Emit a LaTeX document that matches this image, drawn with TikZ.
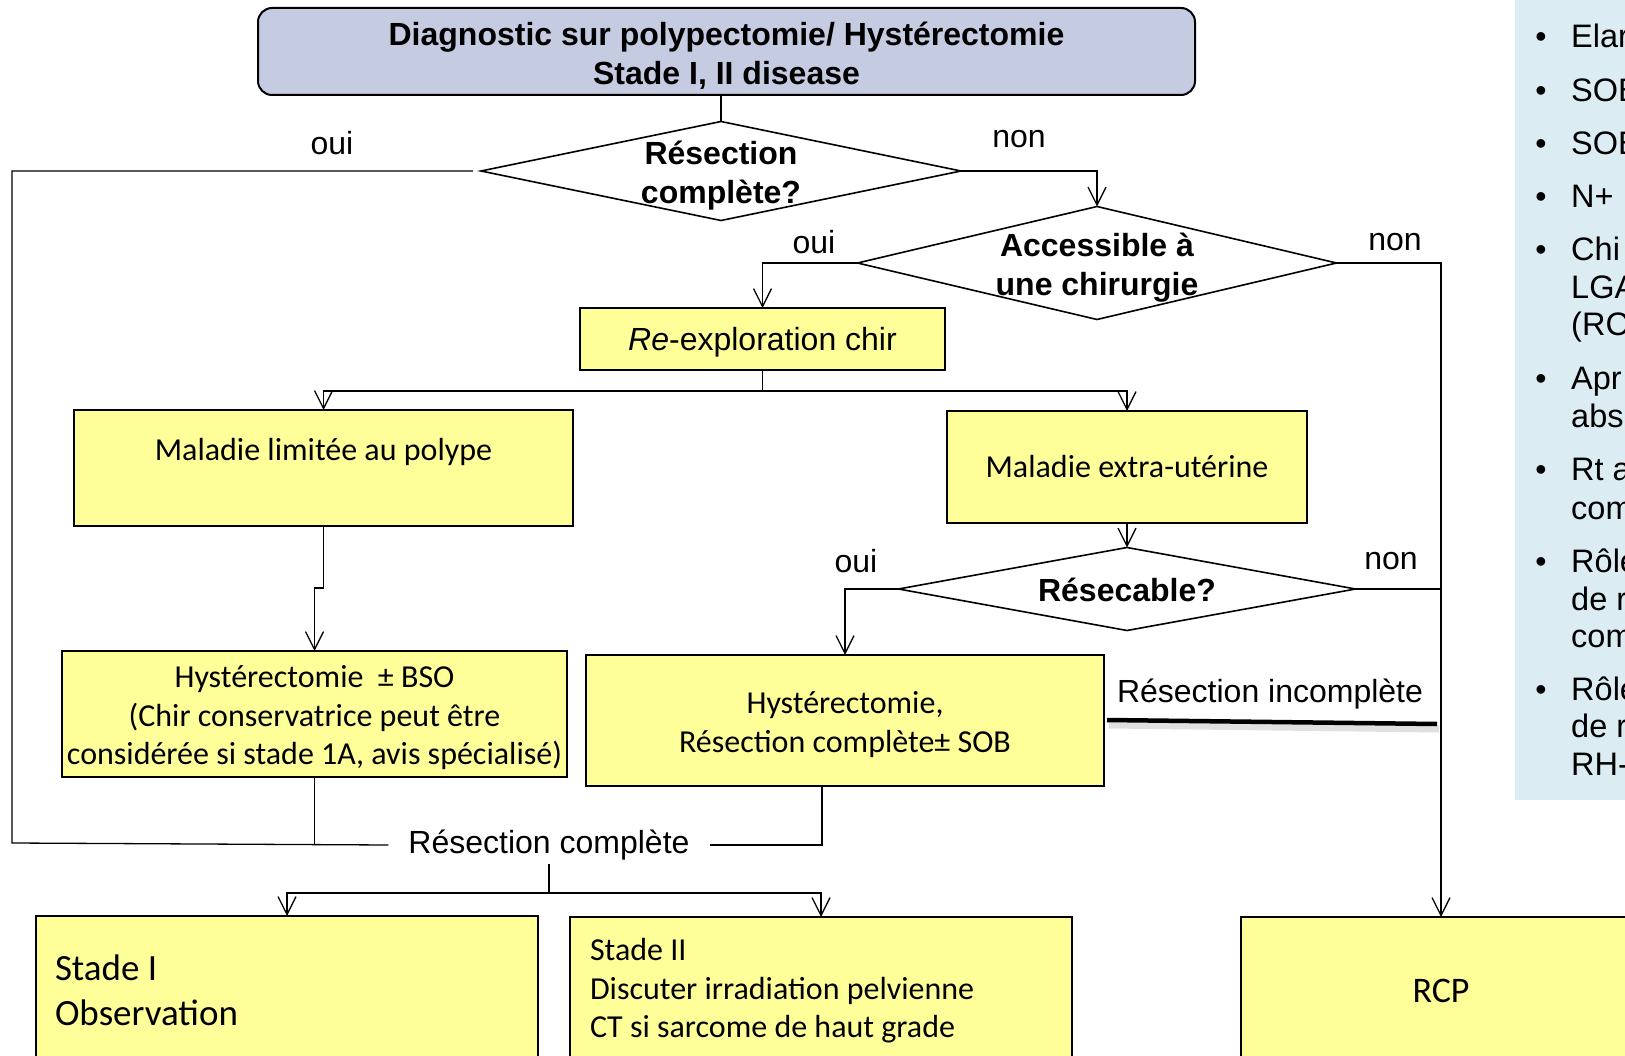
\documentclass[tikz,border=0pt]{standalone}
\usepackage{fontspec}
\setmainfont{Carlito}
\newfontfamily\arial{Liberation Sans}
\usetikzlibrary{shapes.geometric,arrows.meta}
\definecolor{boxyellow}{RGB}{255,255,153}
\definecolor{headblue}{RGB}{197,203,225}
\definecolor{panelblue}{RGB}{219,236,242}
\begin{document}
\begin{tikzpicture}[x=1pt,y=-1pt,
  box/.style={draw=black,line width=1.6pt,fill=boxyellow,inner sep=0pt,outer sep=0pt,align=center,font=\fontsize{32}{38.5}\selectfont},
  btxt/.style={align=center,inner sep=0pt,font=\fontsize{32}{38.5}\selectfont},
  dia/.style={diamond,draw=black,line width=1.6pt,fill=white,inner sep=0pt,outer sep=0pt},
  qtxt/.style={align=center,inner sep=0pt,font=\arial\bfseries\fontsize{32}{39}\selectfont},
  lbl/.style={font=\arial\fontsize{32}{38}\selectfont},
  link/.style={line width=1.3pt},
  arr/.style={line width=1.3pt,-{Straight Barb[length=18pt,width=18pt]}}]
            \useasboundingbox (0,0) rectangle (1625,1056);
            \clip (0,0) rectangle (1625,1056);

            \fill[panelblue] (1515,0) rectangle (1625,800);
            \foreach \y in {48,102,155,208,261,390,480,572,700} {
            \node[anchor=base,font=\arial\fontsize{32}{37}\selectfont] (b\y) at (1541,\y) {•};}
            \foreach \y/\t in {48/Elar,102/SOB,155/SOB,208/N+,261/Chi,299/LGA,336/(RC,390/Apr,428/abs,480/Rt a,519/com,572/Rôle,610/de r,647/com,700/Rôle,737/de r,775/RH-} {
            \node[anchor=base west,inner sep=0pt,font=\arial\fontsize{32.5}{37}\selectfont] (p\y) at (1571,\y) {\t};}

            \node[draw,line width=2pt,rounded corners=14pt,fill=headblue,minimum width=937pt,minimum height=87pt] (diag) at (726.5,51.5) {};
            \node[qtxt] (diagt) at (726.5,55.5) {Diagnostic sur polypectomie/ Hystérectomie\\Stade I, II disease};

            \node[dia,minimum width=480pt,minimum height=99pt] (q1) at (721,171) {};
            \node[qtxt] (q1t) at (721,176) {Résection\\complète?};
            \node[dia,minimum width=479pt,minimum height=113pt] (q2) at (1097,263) {};
            \node[qtxt] (q2t) at (1097,268) {Accessible à\\une chirurgie};

            \node[box,font=\arial\fontsize{32}{38}\selectfont,minimum width=365pt,minimum height=62pt,text height=23pt,text depth=0pt] (reexp) at (762.5,339) {\textit{Re}-exploration chir};
            \node[box,minimum width=499pt,minimum height=116pt,text height=22pt,text depth=38pt] (limit) at (323.5,468) {Maladie limitée au polype};
            \node[box,minimum width=360pt,minimum height=112pt] (extra) at (1127,467) {Maladie extra-utérine};

            \node[dia,minimum width=457pt,minimum height=83pt] (q3) at (1127,589) {};
            \node[qtxt] (q3t) at (1127,590) {Résecable?};

            \node[box,minimum width=505pt,minimum height=126pt] (hyst1) at (314.5,714) {};
            \node[btxt] (hyst1t) at (314.5,718) {Hystérectomie\ \ ± BSO\\(Chir conservatrice peut être\\considérée si stade 1A, avis spécialisé)};
            \node[box,minimum width=518pt,minimum height=131pt] (hyst2) at (845,720.5) {};
            \node[btxt] (hyst2t) at (845,724.5) {Hystérectomie,\\Résection complète± SOB};

            \node[lbl,inner xsep=20pt] (compl) at (549,845) {Résection complète};
            \node[lbl] (incompl) at (1270,694) {Résection incomplète};

            \node[box,minimum width=502pt,minimum height=148pt,text width=464pt,align=flush left,font=\fontsize{37}{45}\selectfont] (st1) at (287,990) {Stade I\\Observation};
            \node[box,minimum width=502pt,minimum height=148pt,text width=462pt,align=flush left] (st2) at (821,991) {Stade II\\Discuter irradiation pelvienne\\CT si sarcome de haut grade};
            \node[box,minimum width=400pt,minimum height=148pt,font=\fontsize{36}{43}\selectfont] (rcp) at (1441,991) {RCP};

            \node[lbl] (oui1) at (332,143) {oui};
            \node[lbl] (non1) at (1019,139) {non};
            \node[lbl] (oui2) at (814,242) {oui};
            \node[lbl] (non2) at (1395,242) {non};
            \node[lbl] (oui3) at (856,561) {oui};
            \node[lbl] (non3) at (1391,561) {non};

            \coordinate (rail) at (12,843);
            \coordinate (rj) at (762.5,391);
            \coordinate (cj) at (549,893);
            \coordinate (inc1) at (1107,720);
            \coordinate (inc2) at (1437,724);

            \draw[link] (diag.south -| q1.north) -- (q1.north);
            \draw[link,shorten <=8pt] (q1.west) -| (rail) -- (compl.west);
            \draw[arr] (q1.east) -| (q2.north);
            \draw[arr] (q2.west) -| (reexp.north);
            \draw[arr] (q2.east) -| (rcp.north);
            \draw[link] (reexp.south) -- (rj);
            \draw[arr] (rj) -| (limit.north);
            \draw[arr] (rj) -| (extra.north);
            \draw[arr] (limit.south) -- ++(0,62) -| (hyst1.north);
            \draw[arr] (extra.south) -- (q3.north);
            \draw[arr] (q3.west) -| (hyst2.north);
            \draw[link] (q3.east) -- (q3.east -| rcp.north);
            \draw[link] (hyst1.south) -- (hyst1.south |- compl.west);
            \draw[link] (compl.east) -| ([xshift=-23pt]hyst2.south);
            \draw[link] (compl.south) -- (cj);
            \draw[arr] (cj) -| (st1.north);
            \draw[arr] (cj) -| (st2.north);

            \draw[line width=7pt,black!12] ([shift={(2,5)}]inc1) -- ([shift={(2,5)}]inc2);
            \draw[line width=4.5pt] (inc1) -- (inc2);
\end{tikzpicture}
\end{document}
